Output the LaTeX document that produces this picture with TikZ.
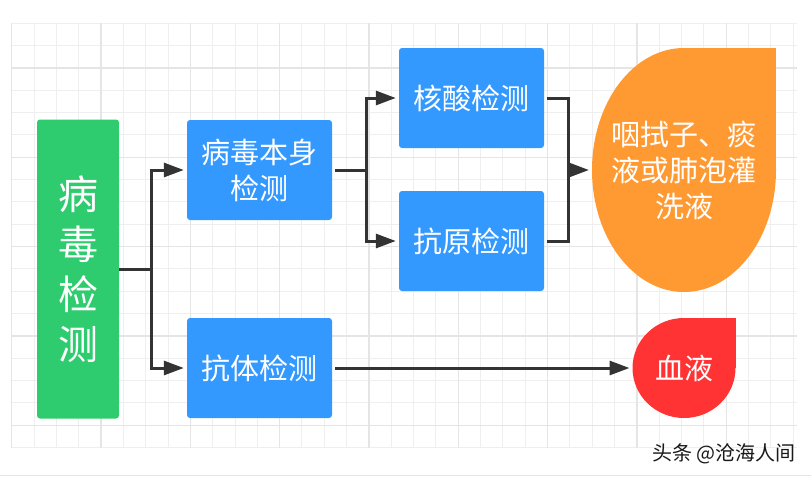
\documentclass[tikz,border=0pt]{standalone}
\usepackage{fontspec}
\newfontfamily\cjk{Noto Sans CJK SC}
\usetikzlibrary{arrows.meta,shapes.geometric}
\definecolor{gridminor}{HTML}{EFEFEF}
\definecolor{gridmajor}{HTML}{E5E5E5}
\definecolor{testgreen}{HTML}{2ECC6E}
\definecolor{testblue}{HTML}{3399FF}
\definecolor{sampleorange}{HTML}{FF9A33}
\definecolor{samplered}{HTML}{FF3333}
\definecolor{linkgray}{HTML}{333333}
\tikzset{
  box/.style={rectangle, rounded corners=3pt, text=white, align=center, inner sep=0pt,
    font=\cjk\fontsize{29}{36}\selectfont},
  greenbox/.style={box, fill=testgreen, minimum width=82pt, minimum height=299pt,
    font=\cjk\fontsize{40}{50}\selectfont},
  bluebox/.style={box, fill=testblue, minimum width=145pt, minimum height=100pt},
  drop/.style={ellipse, inner sep=0pt, outer sep=0pt},
  droptext/.style={text=white, align=center, inner sep=0pt, font=\cjk\fontsize{29}{36}\selectfont},
  link/.style={draw=linkgray, line width=3pt},
  arrowlink/.style={link, -{Triangle[length=20pt,width=14pt]}, shorten >=3pt},
}
\begin{document}
\begin{tikzpicture}[x=1pt, y=-1pt]
  \useasboundingbox (0,0) rectangle (811,477);
  % grid paper
  \foreach \i in {0,...,35} \draw[gridminor, line width=1pt] ({11.7+\i*22.33}, 23.3) -- ({11.7+\i*22.33}, 447.6);
  \foreach \j in {0,...,19} \draw[gridminor, line width=1pt] (11.7, {23.3+\j*22.33}) -- (797, {23.3+\j*22.33});
  \foreach \i in {0,4,...,32} \draw[gridmajor, line width=1.2pt] ({11.7+\i*22.33}, 23.3) -- ({11.7+\i*22.33}, 447.6);
  \foreach \j in {2,6,...,18} \draw[gridmajor, line width=1.2pt] (11.7, {23.3+\j*22.33}) -- (797, {23.3+\j*22.33});
  \draw[gridmajor, line width=1pt] (0, 475.5) -- (811, 475.5);

  % boxes
  \node[greenbox] (virus) at (78, 269) {病\\毒\\检\\测};
  \node[bluebox] (self) at (259.5, 170) {病毒本身\\检测};
  \node[bluebox] (antibody) at (259.5, 368) {抗体检测};
  \node[bluebox] (nucleic) at (471.5, 98) {核酸检测};
  \node[bluebox] (antigen) at (471.5, 241) {抗原检测};

  % samples (drops with a sharp top right corner)
  \fill[sampleorange] (684, 48) rectangle (776, 170);
  \node[drop, fill=sampleorange, minimum width=184pt, minimum height=244pt,
    label={[droptext]center:咽拭子、痰\\液或肺泡灌\\洗液}] (swab) at (684, 170) {};
  \fill[samplered] (684, 318) rectangle (735.5, 368);
  \node[drop, fill=samplered, minimum width=103pt, minimum height=100pt,
    label={[droptext]center:血液}] (blood) at (684, 368) {};

  % connectors
  \coordinate (split1) at (151, 269);
  \coordinate (split2) at (366, 170);
  \coordinate (merge) at (568, 170);
  \draw[link] (virus.east) -- (split1);
  \draw[arrowlink] (split1) |- (self.west);
  \draw[arrowlink] (split1) |- (antibody.west);
  \draw[link, shorten <=3pt] (self.east) -- (split2);
  \draw[arrowlink] (split2) |- (nucleic.west);
  \draw[arrowlink] (split2) |- (antigen.west);
  \draw[link, shorten <=3pt] (nucleic.east) -| (merge);
  \draw[link, shorten <=3pt] (antigen.east) -| (merge);
  \draw[arrowlink] (merge) -- (swab.west);
  \draw[arrowlink, shorten <=3pt] (antibody.east) -- (blood.west);

  \node[font=\cjk\fontsize{20}{24}\selectfont, text=black!90] (credit) at (724, 454) {头条 @沧海人间};
\end{tikzpicture}
\end{document}
